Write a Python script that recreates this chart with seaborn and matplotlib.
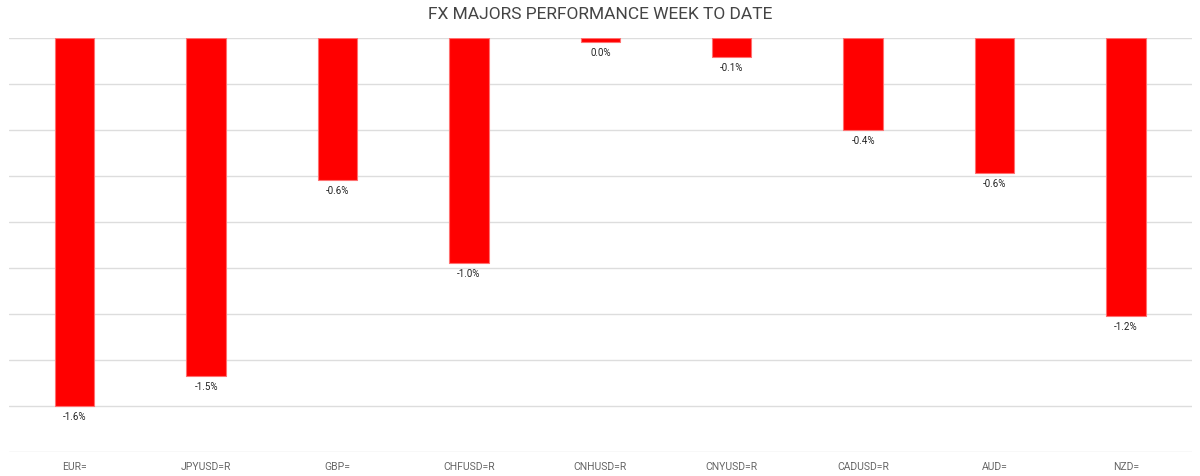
import matplotlib
matplotlib.use("Agg")
import matplotlib.pyplot as plt
import seaborn as sns
import pandas as pd

categories = ["EUR=", "JPYUSD=R", "GBP=", "CHFUSD=R", "CNHUSD=R", "CNYUSD=R", "CADUSD=R", "AUD=", "NZD="]
values = [-1.60, -1.47, -0.617, -0.978, -0.017, -0.083, -0.40, -0.587, -1.209]
value_labels = ["-1.6%", "-1.5%", "-0.6%", "-1.0%", "0.0%", "-0.1%", "-0.4%", "-0.6%", "-1.2%"]

df = pd.DataFrame({"ric": categories, "chg": values})

sns.set_theme(style="white")
plt.rcParams["font.family"] = ["Roboto", "DejaVu Sans"]

fig = plt.figure(figsize=(12, 4.76), dpi=100)
ax = fig.add_axes([0.0075, 0.0504, 0.9855, 0.8698])

sns.barplot(data=df, x="ric", y="chg", color="#ff0000", width=0.3, ax=ax,
            edgecolor="#ff7070", linewidth=0.8, saturation=1)

ax.set_ylim(-1.8, 0)
ax.set_yticks([-1.8, -1.6, -1.4, -1.2, -1.0, -0.8, -0.6, -0.4, -0.2, 0.0])
ax.set_yticklabels([])
ax.yaxis.grid(True, color="#dddddd", linewidth=1)
ax.set_axisbelow(True)
ax.tick_params(axis="y", length=0)
ax.tick_params(axis="x", length=0, labelsize=7.5, labelcolor="#666666", pad=7)
for s in ax.spines.values():
    s.set_visible(False)
ax.set_xlabel("")
ax.set_ylabel("")

for i, (v, lab) in enumerate(zip(values, value_labels)):
    ax.annotate(lab, (i, v), xytext=(0, -4.5), textcoords="offset points",
                ha="center", va="top", fontsize=7, color="#222222")

fig.suptitle("FX MAJORS PERFORMANCE WEEK TO DATE", y=0.985, fontsize=12.5,
             color="#444444")

fig.savefig("out.png", dpi=100)
